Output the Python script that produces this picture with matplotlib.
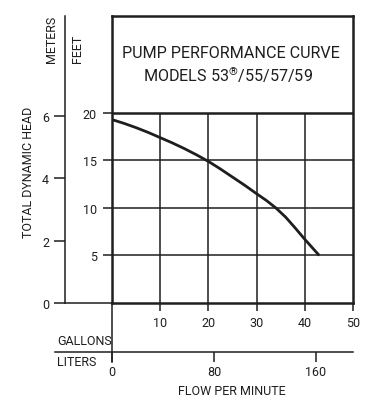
import numpy as np
import matplotlib
import matplotlib.pyplot as plt

plt.rcParams['font.family'] = ['Roboto', 'DejaVu Sans']
plt.rcParams['mathtext.fontset'] = 'custom'
plt.rcParams['mathtext.rm'] = 'Roboto'
plt.rcParams['mathtext.it'] = 'Roboto'

# curve: flow (US gallons/min) vs head (feet)
flow_gal = [0, 2.5, 5, 7.5, 10, 12.5, 15, 17.5, 20, 22.5, 25, 27.5, 30,
            32, 34, 36, 38, 40, 41.5, 43]
head_ft = [19.3, 18.9, 18.45, 17.95, 17.4, 16.85, 16.25, 15.6, 14.9, 14.1,
           13.25, 12.4, 11.5, 10.8, 10.0, 9.05, 7.9, 6.7, 5.85, 5.0]

gal_ticks = [10, 20, 30, 40, 50]
ft_ticks = [5, 10, 15, 20]
m_ticks = [0, 2, 4, 6]
l_ticks = [0, 80, 160]

FT_TOP = 30.2
GAL_MAX = 50
L_PER_GAL = 3.785
M_PER_FT = 0.3048

ink = '#1e1e1e'
W, H = 385, 406
TS = 9.0  # axis text size

def rect(x0, y0, x1, y1):
    return [x0 / W, 1 - y1 / H, (x1 - x0) / W, (y1 - y0) / H]

def pt(px):
    return px * 72 / 100

fig = plt.figure(figsize=(W / 100, H / 100), dpi=100)

# main chart (feet / gallons)
ax = fig.add_axes(rect(112, 17, 353, 304))
ax.set_xlim(0, GAL_MAX)
ax.set_ylim(0, FT_TOP)
for s in ax.spines.values():
    s.set_linewidth(1.8)
    s.set_color(ink)
ax.vlines(gal_ticks[:-1], 0, ft_ticks[-1], color=ink, lw=1.1)
ax.hlines(ft_ticks[:-1], 0, GAL_MAX, color=ink, lw=1.1)
ax.hlines(ft_ticks[-1], 0, GAL_MAX, color=ink, lw=1.8)
ax.plot(flow_gal, head_ft, color=ink, lw=2, solid_capstyle='butt', solid_joinstyle='round')

ax.set_yticks(ft_ticks)
ax.set_xticks(gal_ticks)
ax.tick_params(axis='y', length=pt(9), width=1.1, pad=pt(6), labelsize=TS, color=ink, labelcolor=ink)
ax.tick_params(axis='x', length=pt(8), width=1.1, pad=pt(5), labelsize=TS, color=ink, labelcolor=ink)
# zero-flow line continues down through the scales
ax.plot([0, 0], [0, -59 / 287], transform=ax.get_xaxis_transform(), color=ink, lw=1.1, clip_on=False)

# meters scale
axm = fig.add_axes(rect(65, 17, 112, 304))
axm.set_ylim(0, FT_TOP * M_PER_FT)
axm.set_xlim(0, 1)
axm.spines['top'].set_visible(False)
axm.spines['right'].set_visible(False)
for s in ['left', 'bottom']:
    axm.spines[s].set_linewidth(1.1)
    axm.spines[s].set_color(ink)
axm.set_xticks([])
axm.set_yticks(m_ticks)
axm.tick_params(axis='y', length=pt(11), width=1.1, pad=pt(5), labelsize=TS, color=ink, labelcolor=ink)
axm.patch.set_alpha(0)

# liters scale
px_per_gal = (353 - 112) / GAL_MAX
axl = fig.add_axes(rect(55, 343, 353, 353))
axl.set_xlim(-(112 - 55) / px_per_gal * L_PER_GAL, GAL_MAX * L_PER_GAL)
for s in ['top', 'left', 'right']:
    axl.spines[s].set_visible(False)
axl.spines['bottom'].set_linewidth(1.1)
axl.spines['bottom'].set_color(ink)
axl.set_yticks([])
axl.set_xticks(l_ticks)
axl.tick_params(axis='x', length=pt(10), width=1.1, pad=pt(3), labelsize=TS, color=ink, labelcolor=ink)
axl.patch.set_alpha(0)

def ftext(x, y, s, **kw):
    kw.setdefault('color', ink)
    fig.text(x / W, 1 - y / H, s, **kw)

ftext(231, 53, 'PUMP PERFORMANCE CURVE', ha='center', va='center', fontsize=11.6)
ftext(228, 75, 'MODELS 53$^{\u00ae}$/55/57/59', ha='center', va='center', fontsize=11.6)
ftext(29, 172, 'TOTAL DYNAMIC HEAD', rotation=90, ha='center', va='center', fontsize=TS)
ftext(52, 63, 'METERS', rotation=90, ha='center', va='bottom', fontsize=TS)
ftext(77, 63, 'FEET', rotation=90, ha='center', va='bottom', fontsize=TS)
ftext(112, 342, 'GALLONS', ha='right', va='center', fontsize=TS)
ftext(57, 363, 'LITERS', ha='left', va='center', fontsize=TS)
ftext(232, 392, 'FLOW PER MINUTE', ha='center', va='center', fontsize=TS)

fig.savefig('out.png', dpi=100)
